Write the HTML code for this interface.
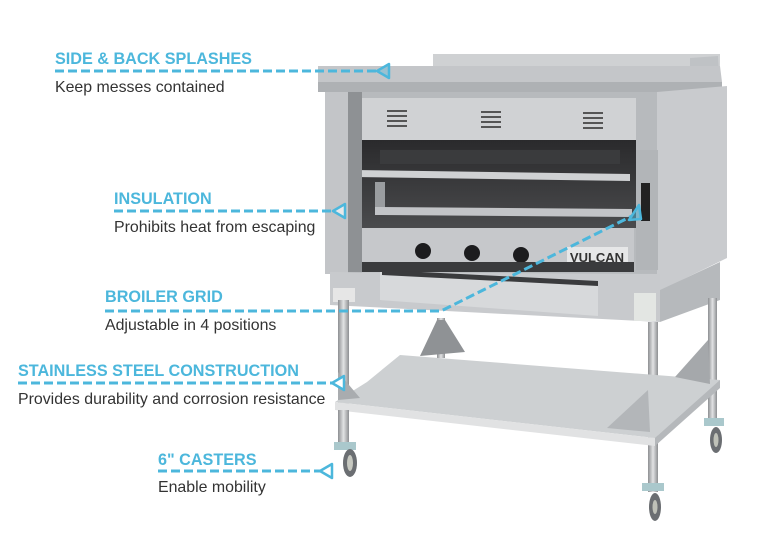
<!DOCTYPE html>
<html><head><meta charset="utf-8"><style>
html,body{margin:0;padding:0;background:#fff}
body{width:770px;height:556px;position:relative;overflow:hidden;font-family:"Liberation Sans",sans-serif}
.t{position:absolute;color:#4cb7dc;font-weight:bold;font-size:16.2px;white-space:nowrap}
.s{position:absolute;color:#333;font-size:15.9px;white-space:nowrap}
svg{position:absolute;left:0;top:0}
</style></head><body>
<svg width="770" height="556" viewBox="0 0 770 556">
<defs>
<linearGradient id="leg" x1="0" x2="1"><stop offset="0" stop-color="#8d8f92"/><stop offset="0.5" stop-color="#e2e3e4"/><stop offset="1" stop-color="#8d8f92"/></linearGradient>
<linearGradient id="cav" x1="0" y1="0" x2="0" y2="1"><stop offset="0" stop-color="#2a2a2c"/><stop offset="1" stop-color="#4a4b4d"/></linearGradient>
</defs>
<rect x="433" y="54" width="287" height="12" fill="#cfd1d3"/>
<polygon points="690,58 718,56 720,90 690,92" fill="#bfc2c5"/>
<polygon points="318,66 720,66 722,82 318,82" fill="#c4c6c9"/>
<rect x="318" y="82" width="404" height="10" fill="#aeb1b4"/>
<rect x="330" y="92" width="330" height="190" fill="#b7babd"/>
<polygon points="657,92 727,86 727,258 657,292" fill="#c9cbce"/>
<rect x="636" y="150" width="22" height="120" fill="#b2b5b8"/>
<rect x="641" y="183" width="9" height="38" fill="#222"/>
<rect x="362" y="98" width="274" height="42" fill="#d0d2d4"/>
<g fill="#555">
<rect x="387" y="110" width="20" height="2"/><rect x="387" y="115" width="20" height="2"/><rect x="387" y="120" width="20" height="2"/><rect x="387" y="125" width="20" height="2"/>
<rect x="481" y="111" width="20" height="2"/><rect x="481" y="116" width="20" height="2"/><rect x="481" y="121" width="20" height="2"/><rect x="481" y="126" width="20" height="2"/>
<rect x="583" y="112" width="20" height="2"/><rect x="583" y="117" width="20" height="2"/><rect x="583" y="122" width="20" height="2"/><rect x="583" y="127" width="20" height="2"/>
</g>
<rect x="362" y="140" width="274" height="88" fill="url(#cav)"/>
<rect x="380" y="150" width="240" height="14" fill="#3a3b3d"/>
<polygon points="354,170 630,174 630,181 354,177" fill="#cfd1d3"/>
<rect x="375" y="182" width="10" height="28" fill="#9a9da0"/>
<polygon points="375,207 632,209 632,217 375,215" fill="#c2c4c7"/>
<rect x="362" y="228" width="272" height="34" fill="#c6c8cb"/>
<circle cx="423" cy="251" r="8" fill="#1c1c1e"/>
<circle cx="472" cy="253" r="8" fill="#1c1c1e"/>
<circle cx="521" cy="255" r="8" fill="#1c1c1e"/>
<rect x="567" y="247" width="61" height="19" fill="#e6e7e8"/>
<text x="597" y="262" font-family="Liberation Sans,sans-serif" font-weight="bold" font-size="13" fill="#333" text-anchor="middle">VULCAN</text>
<rect x="362" y="262" width="272" height="10" fill="#3a3b3d"/>
<rect x="325" y="92" width="27" height="182" fill="#c3c5c8"/>
<rect x="348" y="92" width="14" height="182" fill="#8e9194"/>
<polygon points="330,272 660,274 660,322 330,305" fill="#c8cacd"/>
<rect x="333" y="288" width="22" height="14" fill="#e6e6e6"/>
<rect x="634" y="293" width="22" height="28" fill="#e3e6e3"/>
<polygon points="380,272 598,283 598,316 380,300" fill="#d7d9db"/>
<polygon points="382,270 598,281 598,286 382,275" fill="#3a3b3d"/>
<polygon points="660,290 720,262 720,300 660,322" fill="#b6b9bc"/>
<rect x="437" y="318" width="8" height="40" fill="url(#leg)"/>
<polygon points="420,356 437,320 445,320 465,352" fill="#8f9295"/>
<rect x="708" y="298" width="9" height="124" fill="url(#leg)"/>
<rect x="338" y="300" width="11" height="150" fill="url(#leg)"/>
<rect x="648" y="322" width="10" height="170" fill="url(#leg)"/>
<polygon points="367,382 400,355 720,380 710,392 655,438 335,402" fill="#cdd0d2"/>
<polygon points="335,402 655,438 655,446 335,410" fill="#e1e2e3"/>
<polygon points="655,438 720,380 720,388 655,446" fill="#b5b8bb"/>
<polygon points="338,372 360,398 338,400" fill="#a9acaf"/>
<polygon points="607,428 648,390 650,432" fill="#b3b6b9"/>
<polygon points="675,377 708,340 710,384" fill="#a5a8ab"/>
<rect x="338" y="410" width="11" height="40" fill="url(#leg)"/>
<rect x="648" y="446" width="10" height="46" fill="url(#leg)"/>
<g>
<rect x="334" y="442" width="22" height="8" fill="#aac8cc"/>
<ellipse cx="350" cy="463" rx="7" ry="14" fill="#6b6e72"/><ellipse cx="350" cy="463" rx="3" ry="8" fill="#c6c8c0"/>
<rect x="642" y="483" width="22" height="8" fill="#aac8cc"/>
<ellipse cx="655" cy="507" rx="6" ry="14" fill="#6b6e72"/><ellipse cx="655" cy="507" rx="2.5" ry="7" fill="#bfc1b8"/>
<rect x="704" y="418" width="20" height="8" fill="#aac8cc"/>
<ellipse cx="716" cy="440" rx="6" ry="13" fill="#6b6e72"/><ellipse cx="716" cy="440" rx="2.5" ry="7" fill="#bfc1b8"/>
</g>
<g stroke="#4cb7dc" stroke-width="3" fill="none" stroke-dasharray="9,4">
<line x1="55" y1="71" x2="378" y2="71"/>
<line x1="114" y1="211" x2="334" y2="211"/>
<polyline points="105,311 441,311 632,216"/>
<line x1="18" y1="383" x2="333" y2="383"/>
<line x1="158" y1="471" x2="321" y2="471"/>
</g>
<g fill="#fff" stroke="#4cb7dc" stroke-width="2.5" stroke-linejoin="round">
<polygon points="377,71 389,64 389,78" fill="#4cb7dc" fill-opacity="0.35"/>
<polygon points="333,211 345,204 345,218" fill-opacity="0.6"/>
<polygon points="639,205 629,220 641,219" fill="#4cb7dc" fill-opacity="0.5"/>
<polygon points="332,383 344,376 344,390"/>
<polygon points="320,471 332,464 332,478"/>
</g>
</svg>
<div class="t" style="left:55px;top:50px">SIDE &amp; BACK SPLASHES</div>
<div class="s" style="left:55px;top:79px">Keep messes contained</div>
<div class="t" style="left:114px;top:190px">INSULATION</div>
<div class="s" style="left:114px;top:219px">Prohibits heat from escaping</div>
<div class="t" style="left:105px;top:288px">BROILER GRID</div>
<div class="s" style="left:105px;top:317px">Adjustable in 4 positions</div>
<div class="t" style="left:18px;top:362px">STAINLESS STEEL CONSTRUCTION</div>
<div class="s" style="left:18px;top:391px">Provides durability and corrosion resistance</div>
<div class="t" style="left:158px;top:451px">6" CASTERS</div>
<div class="s" style="left:158px;top:479px">Enable mobility</div>
</body></html>
